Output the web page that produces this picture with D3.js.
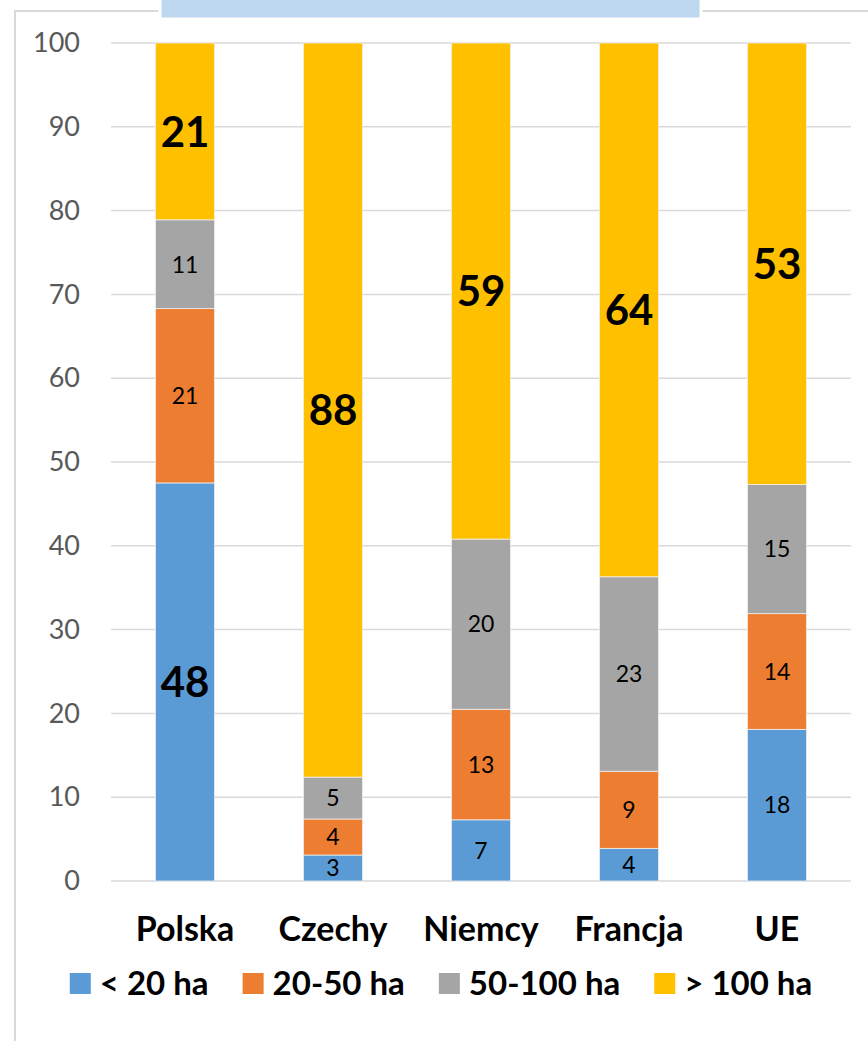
<!DOCTYPE html>
<html>
<head>
<meta charset="utf-8">
<script src="https://cdn.jsdelivr.net/npm/d3@7"></script>
<style>
  body { margin: 0; background: #fff; }
  svg { display: block; font-family: Lato, "Open Sans", sans-serif; }
</style>
</head>
<body>
<div id="chart"></div>
<script>

// data (percent of farm area)
var categories = ["Polska", "Czechy", "Niemcy", "Francja", "UE"];
var seriesNames = ["< 20 ha", "20-50 ha", "50-100 ha", "> 100 ha"];
var under20 = [47.5, 3.1, 7.3, 3.9, 18.1];
var from20to50 = [20.8, 4.3, 13.2, 9.2, 13.8];
var from50to100 = [10.6, 5.0, 20.3, 23.2, 15.4];
var over100 = [21.1, 87.6, 59.2, 63.7, 52.7];
var yTicks = [0, 10, 20, 30, 40, 50, 60, 70, 80, 90, 100];

// labels drawn large and bold
var bigLabels = ["Polska|< 20 ha", "Polska|> 100 ha", "Czechy|> 100 ha", "Niemcy|> 100 ha", "Francja|> 100 ha", "UE|> 100 ha"];

var colors = ["#5B9BD5", "#ED7D31", "#A5A5A5", "#FFC000"];

var rows = categories.map(function(c, i) {
  var o = { cat: c };
  o[seriesNames[0]] = under20[i];
  o[seriesNames[1]] = from20to50[i];
  o[seriesNames[2]] = from50to100[i];
  o[seriesNames[3]] = over100[i];
  return o;
});

var width = 868, height = 1041;

var svg = d3.select("#chart").append("svg")
  .attr("width", width)
  .attr("height", height);

// outer frame of the chart area
svg.append("rect")
  .attr("x", 15).attr("y", 11)
  .attr("width", width).attr("height", height)
  .attr("fill", "none")
  .attr("stroke", "#d9d9d9")
  .attr("stroke-width", 2);

// title box (cut off at the top)
svg.append("rect")
  .attr("x", 160).attr("y", -4)
  .attr("width", 541).attr("height", 23)
  .attr("fill", "#BDD7EE")
  .attr("stroke", "#fff")
  .attr("stroke-width", 3);

var x = d3.scaleBand()
  .domain(categories)
  .range([111, 851])
  .paddingInner(0.6)
  .paddingOuter(0.3);

var y = d3.scaleLinear()
  .domain([0, 100])
  .range([881, 43]);

// gridlines
svg.append("g")
  .selectAll("line")
  .data(yTicks)
  .enter()
  .append("line")
  .attr("x1", 111).attr("x2", 851)
  .attr("y1", function(d) { return y(d); })
  .attr("y2", function(d) { return y(d); })
  .attr("stroke", "#d9d9d9")
  .attr("stroke-width", 1.5);

// y axis labels
var yAxis = svg.append("g")
  .attr("transform", "translate(80,0)")
  .call(d3.axisLeft(y).tickValues(yTicks).tickSize(0).tickPadding(0));
yAxis.select(".domain").remove();
yAxis.selectAll("text")
  .style("font-family", "Lato, sans-serif")
  .style("font-size", "27px")
  .attr("fill", "#595959");

var stacked = d3.stack().keys(seriesNames)(rows);

var layers = svg.append("g")
  .selectAll("g")
  .data(stacked)
  .enter()
  .append("g")
  .attr("fill", function(d, i) { return colors[i]; });

layers.selectAll("rect")
  .data(function(d) { return d; })
  .enter()
  .append("rect")
  .attr("x", function(d) { return x(d.data.cat); })
  .attr("width", x.bandwidth())
  .attr("y", function(d) { return y(d[1]); })
  .attr("height", function(d) { return y(d[0]) - y(d[1]); })
  .attr("stroke", "#f2f2f2")
  .attr("stroke-width", 0.75);

// value labels in the middle of each segment
layers.each(function(s) {
  var key = s.key;
  d3.select(this).selectAll("text")
    .data(s)
    .enter()
    .append("text")
    .attr("x", function(d) { return x(d.data.cat) + x.bandwidth() / 2; })
    .attr("y", function(d) { return (y(d[0]) + y(d[1])) / 2; })
    .attr("dy", "0.36em")
    .attr("text-anchor", "middle")
    .attr("fill", "#000")
    .style("font-size", function(d) {
      return bigLabels.indexOf(d.data.cat + "|" + key) >= 0 ? "42px" : "23px";
    })
    .style("font-weight", function(d) {
      return bigLabels.indexOf(d.data.cat + "|" + key) >= 0 ? "bold" : "normal";
    })
    .text(function(d) { return Math.round(d[1] - d[0]); });
});

// category labels
var xAxis = svg.append("g")
  .attr("transform", "translate(0,0)")
  .call(d3.axisBottom(x).tickSize(0).tickPadding(0));
xAxis.select(".domain").remove();
xAxis.selectAll("text")
  .attr("y", 941)
  .attr("dy", null)
  .style("font-family", "Lato, sans-serif")
  .style("font-size", "34px")
  .style("font-weight", "bold")
  .attr("fill", "#000");

// legend
var legend = svg.append("g").attr("class", "legend");
var items = legend.selectAll("g")
  .data(seriesNames)
  .enter()
  .append("g");

items.append("rect")
  .attr("y", 973)
  .attr("width", 21)
  .attr("height", 21)
  .attr("fill", function(d, i) { return colors[i]; });

items.append("text")
  .attr("x", 30)
  .attr("y", 995)
  .style("font-size", "33px")
  .style("font-weight", "bold")
  .attr("fill", "#000")
  .text(String);

var pos = 0, offsets = [];
items.each(function(d, i) {
  offsets.push(pos);
  pos += 30 + this.querySelector("text").getComputedTextLength() + 34;
});
var total = pos - 34;
var start = 441 - total / 2;
items.attr("transform", function(d, i) { return "translate(" + (start + offsets[i]) + ",0)"; });

</script>
</body>
</html>
